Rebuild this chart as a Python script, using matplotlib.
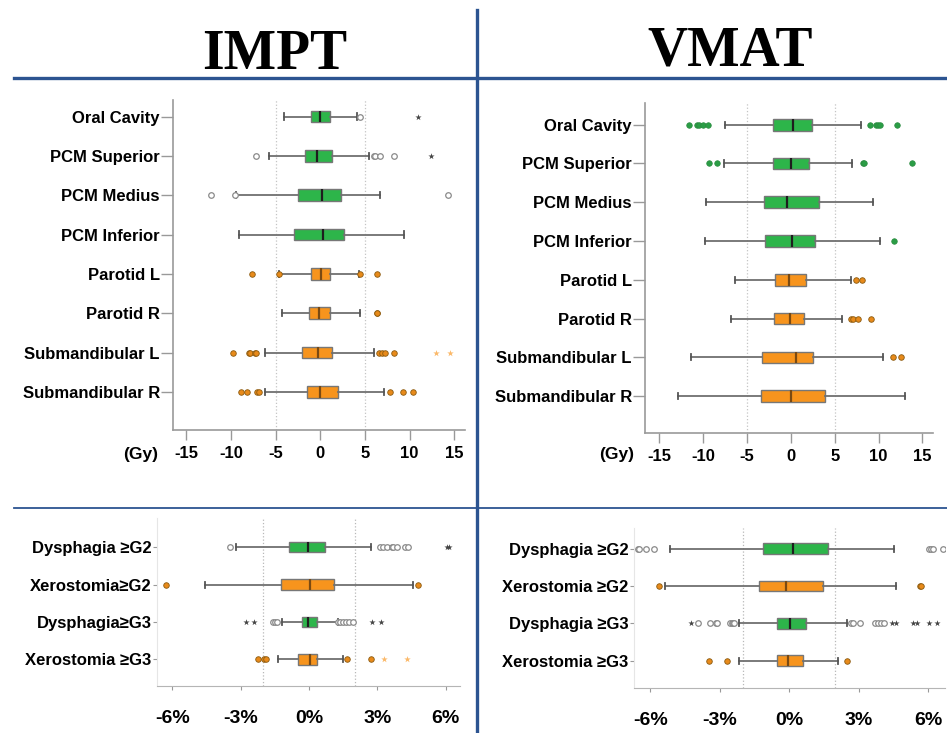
import matplotlib
matplotlib.use("Agg")
import matplotlib.pyplot as plt
from matplotlib.lines import Line2D

plt.rcParams['font.family'] = ['Liberation Sans', 'DejaVu Sans']

GREEN = "#2db54a"
ORANGE = "#f7941d"

# ---- organ dose differences (Gy) ----
organs = ["Oral Cavity", "PCM Superior", "PCM Medius", "PCM Inferior",
          "Parotid L", "Parotid R", "Submandibular L", "Submandibular R"]
organ_kind = ["g", "g", "g", "g", "o", "o", "o", "o"]

impt_wlo = [-4.1, -5.8, -9.4, -9.1, -4.6, -4.3, -6.25, -6.25]
impt_q1 = [-1.05, -1.7, -2.5, -3.0, -1.1, -1.25, -2.0, -1.5]
impt_med = [0.0, -0.35, 0.15, 0.25, 0.05, -0.1, -0.25, -0.05]
impt_q3 = [1.1, 1.3, 2.3, 2.6, 1.1, 1.1, 1.35, 1.95]
impt_whi = [4.1, 5.4, 6.7, 9.4, 4.3, 4.45, 6.0, 7.1]
impt_out = [[4.45], [-7.15, 6.0, 6.1, 6.7, 8.2], [-12.3, -9.6, 14.3], [],
            [-7.7, -4.6, 4.45, 6.35], [6.3, 6.4],
            [-9.8, -8.0, -7.9, -7.3, -7.15, 6.6, 6.9, 7.2, 8.2],
            [-8.85, -8.25, -7.1, -6.85, 7.85, 9.25, 10.4]]
impt_ext = [[10.95], [12.35], [], [], [], [], [12.9, 14.5], []]

vmat_wlo = [-7.45, -7.65, -9.7, -9.8, -6.4, -6.85, -11.35, -12.85]
vmat_q1 = [-2.0, -2.05, -3.1, -2.95, -1.85, -1.9, -3.3, -3.4]
vmat_med = [0.25, 0.05, -0.4, 0.15, -0.25, -0.1, 0.55, 0.0]
vmat_q3 = [2.4, 2.05, 3.25, 2.75, 1.7, 1.5, 2.55, 3.95]
vmat_whi = [8.05, 6.95, 9.35, 10.15, 6.9, 5.8, 10.45, 13.0]
vmat_out = [[-11.55, -10.65, -10.45, -9.95, -9.45, 9.0, 9.75, 9.9, 10.15, 12.15],
            [-9.3, -8.35, 8.25, 8.35, 13.8], [], [11.8], [7.4, 8.15],
            [6.9, 7.05, 7.65, 9.15], [11.7, 12.6], []]
vmat_ext = [[], [], [], [], [], [], [], []]

gy_ticks = [-15, -10, -5, 0, 5, 10, 15]

# ---- NTCP differences (%) ----
impt_tox = ["Dysphagia ≥G2", "Xerostomia≥G2", "Dysphagia≥G3", "Xerostomia ≥G3"]
vmat_tox = ["Dysphagia ≥G2", "Xerostomia ≥G2", "Dysphagia ≥G3", "Xerostomia ≥G3"]
tox_kind = ["g", "o", "g", "o"]

impt_t_wlo = [-3.2, -4.55, -1.2, -1.37]
impt_t_q1 = [-0.88, -1.24, -0.31, -0.48]
impt_t_med = [-0.04, 0.06, -0.03, 0.03]
impt_t_q3 = [0.70, 1.11, 0.34, 0.36]
impt_t_whi = [2.73, 4.58, 1.26, 1.48]
impt_t_out = [[-3.49, 3.13, 3.25, 3.41, 3.64, 3.70, 3.86, 4.22, 4.34],
              [-6.27, 4.77],
              [-1.57, -1.49, -1.42, 1.29, 1.36, 1.48, 1.61, 1.74, 1.92],
              [-2.24, -1.97, -1.91, 1.68, 2.72]]
impt_t_ext = [[6.04, 6.15], [], [-2.76, -2.4, 2.76, 3.16], [3.3, 4.3]]

vmat_t_wlo = [-5.16, -5.35, -2.18, -2.18]
vmat_t_q1 = [-1.15, -1.31, -0.52, -0.52]
vmat_t_med = [0.15, -0.14, 0.03, -0.06]
vmat_t_q3 = [1.69, 1.47, 0.71, 0.61]
vmat_t_whi = [4.53, 4.61, 2.51, 2.10]
vmat_t_out = [[-6.53, -6.49, -6.17, -5.86, 6.05, 6.13, 6.23, 6.64],
              [-5.64, 5.66, 5.70],
              [-3.95, -3.43, -3.16, -3.13, -2.54, -2.49, -2.44, -2.39,
               2.66, 2.76, 3.05, 3.70, 3.83, 3.96, 4.10],
              [-3.46, -2.67, 2.51]]
vmat_t_ext = [[], [], [-4.24, 4.45, 4.62, 5.37, 5.52, 6.03, 6.41], []]

pct_ticks = [-6, -3, 0, 3, 6]


def panel(ax, labels, kinds, wlo, q1, med, q3, whi, out, ext, filled_green, width):
    stats = [dict(whislo=a, q1=b, med=c, q3=d, whishi=e, fliers=[])
             for a, b, c, d, e in zip(wlo, q1, med, q3, whi)]
    pos = list(range(len(labels)))
    bp = ax.bxp(stats, positions=pos, orientation='horizontal', widths=width,
                capwidths=0.16, patch_artist=True, showfliers=False,
                manage_ticks=False,
                boxprops=dict(edgecolor='#777777', linewidth=1.0),
                whiskerprops=dict(color='#707070', linewidth=1.3),
                capprops=dict(color='#555555', linewidth=1.3),
                medianprops=dict(color='#1e1e1e', linewidth=1.6))
    for i, k in enumerate(kinds):
        bp['boxes'][i].set_facecolor(GREEN if k == "g" else ORANGE)
        if k == "o":
            bp['medians'][i].set_color('#7a4a12')
        xs = out[i]
        ys = [i] * len(xs)
        if k == "g" and not filled_green:
            ax.scatter(xs, ys, s=16, facecolor='white', edgecolor='#8a8a8a',
                       linewidth=0.9, zorder=3)
            ax.scatter(ext[i], [i] * len(ext[i]), s=22, marker='*',
                       color='#444444', linewidth=0, zorder=3)
        elif k == "g":
            ax.scatter(xs, ys, s=16, color='#2a9d45', edgecolor='#2a8a40',
                       linewidth=0.5, zorder=3)
        else:
            ax.scatter(xs, ys, s=16, color='#e88a1a', edgecolor='#8a5a10',
                       linewidth=0.6, zorder=3)
            ax.scatter(ext[i], [i] * len(ext[i]), s=24, marker='*',
                       color='#fbb868', linewidth=0, zorder=3)
    ax.set_yticks(pos)
    ax.set_yticklabels(labels, fontsize=12, fontweight='bold')
    ax.spines['top'].set_visible(False)
    ax.spines['right'].set_visible(False)


fig = plt.figure(figsize=(9.47, 7.33), dpi=100)
W, H = 947.0, 733.0


def box(l, r, t, b):
    return [l / W, 1 - b / H, (r - l) / W, (b - t) / H]


# top panels (Gy)
for rect, data, ylim, xlim in [
        (box(173, 465, 100, 430),
         (impt_wlo, impt_q1, impt_med, impt_q3, impt_whi, impt_out, impt_ext, False),
         (7.97, -0.42), (-16.5, 16.2)),
        (box(645, 933, 103, 433),
         (vmat_wlo, vmat_q1, vmat_med, vmat_q3, vmat_whi, vmat_out, vmat_ext, True),
         (7.95, -0.56), (-16.6, 16.2))]:
    ax = fig.add_axes(rect)
    panel(ax, organs, organ_kind, *data, width=0.3)
    for g in (-5, 5):
        ax.axvline(g, ls=':', color='#c4c4c4', lw=0.9, zorder=0)
    ax.set_xlim(*xlim)
    ax.set_ylim(*ylim)
    ax.set_xticks(gy_ticks)
    ax.set_xticklabels([str(t) for t in gy_ticks], fontsize=12, fontweight='bold')
    ax.tick_params(axis='x', length=7.5, color='#999999', width=1.0, pad=4)
    ax.tick_params(axis='y', length=8.5, color='#999999', width=1.0, pad=1)
    for s in ('left', 'bottom'):
        ax.spines[s].set_color('#9a9a9a')
        ax.spines[s].set_linewidth(1.2)

# bottom panels (%)
for rect, labels, data, ylim, xlim in [
        (box(157, 460, 518, 686), impt_tox,
         (impt_t_wlo, impt_t_q1, impt_t_med, impt_t_q3, impt_t_whi, impt_t_out, impt_t_ext, False),
         (3.71, -0.78), (-6.67, 6.62)),
        (box(634, 945, 528, 688), vmat_tox,
         (vmat_t_wlo, vmat_t_q1, vmat_t_med, vmat_t_q3, vmat_t_whi, vmat_t_out, vmat_t_ext, False),
         (3.73, -0.55), (-6.71, 6.74))]:
    ax = fig.add_axes(rect)
    panel(ax, labels, tox_kind, *data, width=0.28)
    for g in (-2, 2):
        ax.axvline(g, ls=':', color='#b8b8b8', lw=0.9, zorder=0)
    ax.set_xlim(*xlim)
    ax.set_ylim(*ylim)
    ax.set_xticks(pct_ticks)
    ax.set_xticklabels([f"{t}%" for t in pct_ticks], fontsize=14, fontweight='bold')
    ax.tick_params(axis='x', length=3, color='#999999', width=0.8, pad=14)
    ax.tick_params(axis='y', length=3, color='#999999', width=0.8, pad=1)
    ax.spines['left'].set_color('#e6e6e6')
    ax.spines['bottom'].set_color('#b5b5b5')

# unit labels
fig.text(158 / W, 1 - 454 / H, "(Gy)", ha='right', va='center',
         fontsize=12.5, fontweight='bold')
fig.text(634 / W, 1 - 454 / H, "(Gy)", ha='right', va='center',
         fontsize=12.5, fontweight='bold')

# titles
fig.text(275 / W, 1 - 69 / H, "IMPT", ha='center', va='baseline',
         family='Liberation Serif', fontweight='bold', fontsize=40)
fig.text(730 / W, 1 - 66 / H, "VMAT", ha='center', va='baseline',
         family='Liberation Serif', fontweight='bold', fontsize=40)

# separator lines
BLUE = "#2c5491"
fig.add_artist(Line2D([14 / W, 1], [1 - 78 / H] * 2, transform=fig.transFigure,
                      color=BLUE, lw=2.4))
fig.add_artist(Line2D([14 / W, 1], [1 - 508 / H] * 2, transform=fig.transFigure,
                      color=BLUE, lw=1.3))
fig.add_artist(Line2D([477 / W] * 2, [0, 1 - 10 / H], transform=fig.transFigure,
                      color=BLUE, lw=2.4))

fig.savefig("out.png", dpi=100)
